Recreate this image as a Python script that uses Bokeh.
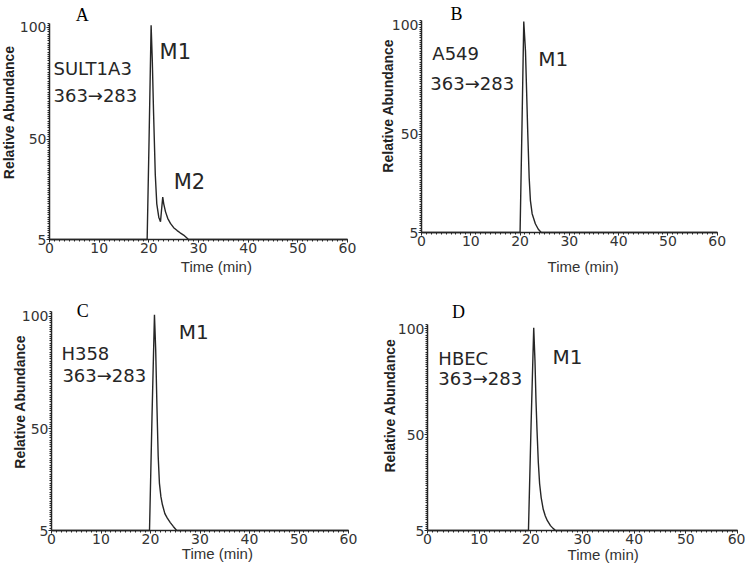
import math
from bokeh.plotting import figure
from bokeh.layouts import row, column
from bokeh.models import Label, FixedTicker, SingleIntervalTicker, Range1d
from bokeh.embed import file_html
from bokeh.resources import INLINE

# ---------------- data ----------------
x_ticks = [0, 10, 20, 30, 40, 50, 60]
y_ticks = [5, 50, 100]
y_tick_labels = {5: "5", 50: "50", 100: "100"}

panel_letters = ["A", "B", "C", "D"]
sample_names = ["SULT1A3", "A549", "H358", "HBEC"]
transition = "363\u2192283"

# Panel A (SULT1A3): M1 and M2 peaks
time_a = [0, 19.66, 20.05, 20.46, 20.7, 20.95, 21.1, 21.3, 21.6, 22.0, 22.35,
          22.55, 22.8, 23.0, 23.35, 23.8, 24.35, 25.0, 25.7, 26.3, 27.0, 27.5, 28.0, 60]
abund_a = [5, 5, 50, 101, 85, 62, 50, 34, 21, 15, 13,
           18, 24, 21, 17.5, 14.5, 12.2, 10.3, 9, 8, 7, 6, 5, 5]

# Panel B (A549)
time_b = [0, 20.0, 20.4, 20.75, 21.1, 21.57, 21.85, 22.1, 22.45, 23.1, 23.7, 24.3, 60]
abund_b = [5, 5, 55, 101.5, 88, 50, 30, 19.6, 13.6, 9, 6.5, 5, 5]

# Panel C (H358)
time_c = [0, 19.8, 20.3, 20.8, 21.05, 21.3, 21.55, 21.8, 22.1, 22.4, 22.9,
          23.4, 24.0, 24.6, 25.3, 60]
abund_c = [5, 5, 55, 100.5, 85, 60, 38, 26, 20, 16.5, 12.5,
           10.5, 8.5, 6.8, 5, 5]

# Panel D (HBEC)
time_d = [0, 19.54, 20.05, 20.56, 20.8, 21.0, 21.2, 21.45, 21.7, 22.0, 22.4,
          22.8, 23.2, 23.8, 24.3, 24.8, 60]
abund_d = [5, 5, 55, 100.5, 85, 66, 52, 37, 27, 20.5, 15,
           11.8, 9.6, 7.3, 6, 5, 5]

X_MIN, X_MAX = 0, 60
Y_MIN, Y_MAX = 5, 102

# ---------------- styling helpers ----------------
SANS = "Liberation Sans"
WIDE = "DejaVu Sans"
SERIF = "Liberation Serif"
INK = "#262626"


def make_panel(letter, name, xs, ys, width, height, geom, ann):
    # geom: pixel positions inside the figure of x=0, x=60, y=5, y=102
    x0px, x60px, y5px, ytop_px = geom
    sx = (x60px - x0px) / (X_MAX - X_MIN)
    sy = (y5px - ytop_px) / (Y_MAX - Y_MIN)
    xr = Range1d(X_MIN - x0px / sx, X_MAX + (width - x60px) / sx)
    yr = Range1d(Y_MIN - (height - y5px) / sy, Y_MAX + ytop_px / sy)

    p = figure(width=width, height=height, output_backend="svg",
               toolbar_location=None, x_range=xr, y_range=yr)
    p.min_border = 0
    p.min_border_left = 0
    p.min_border_right = 0
    p.min_border_top = 0
    p.min_border_bottom = 0
    p.outline_line_color = None
    p.xgrid.visible = False
    p.ygrid.visible = False
    p.background_fill_color = "white"
    p.border_fill_color = "white"

    p.xaxis.ticker = SingleIntervalTicker(interval=10, num_minor_ticks=10)
    p.yaxis.ticker = FixedTicker(ticks=y_ticks, minor_ticks=list(range(5, 103)))
    p.yaxis.major_label_overrides = y_tick_labels
    p.xaxis.fixed_location = Y_MIN
    p.yaxis.fixed_location = X_MIN
    p.xaxis.bounds = (X_MIN, X_MAX)
    p.yaxis.bounds = (Y_MIN, Y_MAX)
    for ax in (p.xaxis[0], p.yaxis[0]):
        ax.axis_line_color = INK
        ax.axis_line_width = 1.5
        ax.major_tick_line_color = INK
        ax.minor_tick_line_color = INK
        ax.major_tick_in = 0
        ax.major_tick_out = 3
        ax.minor_tick_in = 0
        ax.minor_tick_out = 2
        ax.major_label_standoff = 0
        ax.major_label_text_font = WIDE
        ax.major_label_text_font_size = "14px"
        ax.major_label_text_color = "#333333"

    p.line(xs, ys, line_color=INK, line_width=1.4)

    def lab(text, x, y, size, font=WIDE, align="left", baseline="alphabetic",
            angle=0.0, style="normal", color=INK):
        p.add_layout(Label(x=x, y=y, text=text, text_font=font,
                           text_font_size=size, text_align=align,
                           text_baseline=baseline, angle=angle,
                           text_font_style=style, text_color=color))

    lab(letter, ann["letter"][0], ann["letter"][1], "18px", font=SERIF,
        align="center", color="black")
    lab(name, ann["name"][0], ann["name"][1], "18px")
    lab(transition, ann["trans"][0], ann["trans"][1], "18px")
    for txt, (x, y, s) in ann["peaks"]:
        lab(txt, x, y, s)
    lab("Time (min)", ann["time"][0], ann["time"][1], "15px", font=SANS,
        align="center", color="#333333")
    lab("Relative Abundance", ann["ylab"][0], ann["ylab"][1], "14px", font=SANS,
        align="center", baseline="middle", angle=math.pi / 2, style="bold",
        color="#222222")
    return p


pa = make_panel("A", sample_names[0], time_a, abund_a, 370, 280, (49, 347, 239, 22.5),
                {"letter": (6.6, 105.4), "name": (0.8, 81.6), "trans": (0.8, 69.5),
                 "peaks": [("M1", (22.15, 88.8, "21px")), ("M2", (25.0, 30.7, "21px"))],
                 "time": (33.6, -7.1), "ylab": (-8.1, 62)})
pb = make_panel("B", sample_names[1], time_b, abund_b, 375, 280, (51, 346.7, 232, 20),
                {"letter": (7.1, 105.2), "name": (2.2, 86.9), "trans": (1.8, 73.2),
                 "peaks": [("M1", (23.7, 84.6, "20px"))],
                 "time": (32.8, -10.5), "ylab": (-6.8, 63)})
pc = make_panel("C", sample_names[2], time_c, abund_c, 370, 283, (51, 348, 250, 31),
                {"letter": (6.3, 102.4), "name": (2.0, 83.4), "trans": (2.2, 73.6),
                 "peaks": [("M1", (25.7, 92.7, "20px"))],
                 "time": (33.5, -5.3), "ylab": (-6.4, 62)})
pd_ = make_panel("D", sample_names[3], time_d, abund_d, 375, 283, (57, 367, 250, 44),
                 {"letter": (6.0, 107.8), "name": (2.1, 86.0), "trans": (2.1, 76.6),
                  "peaks": [("M1", (24.2, 86.9, "20px"))],
                  "time": (34.0, -6.2), "ylab": (-7.35, 63.8)})

layout = column(row(pa, pb), row(pc, pd_))
open("out.html", "w").write(file_html(layout, INLINE))
